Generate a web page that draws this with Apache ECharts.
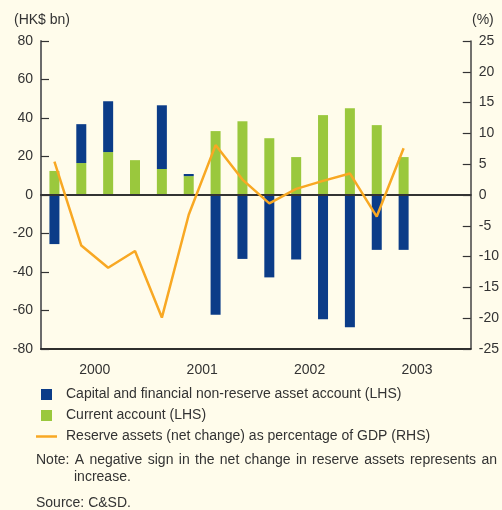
<!DOCTYPE html>
<html>
<head>
<meta charset="utf-8">
<script src="https://cdn.jsdelivr.net/npm/echarts@6/dist/echarts.min.js"></script>
<style>
  html, body { margin: 0; padding: 0; background: #FFFCEB; }
  #chart { width: 502px; height: 510px; }
</style>
</head>
<body>
<div id="chart"></div>
<script>
// Quarterly categories 2000 Q1 – 2003 Q4
const quarters = [
  '2000 Q1', '2000 Q2', '2000 Q3', '2000 Q4',
  '2001 Q1', '2001 Q2', '2001 Q3', '2001 Q4',
  '2002 Q1', '2002 Q2', '2002 Q3', '2002 Q4',
  '2003 Q1', '2003 Q2', '2003 Q3', '2003 Q4'
];
const years = ['2000', '2001', '2002', '2003'];

// HK$ bn (LHS)
const currentAccount = [12.5, 16.6, 22.3, 18.1, 13.5, 9.8, 33.2, 38.3, 29.5, 19.7, 41.5, 45.1, 36.3, 19.7];
const capitalAccount = [-25.5, 20.2, 26.4, 0, 33.1, 1.1, -62.2, -33.2, -42.8, -33.5, -64.6, -68.7, -28.5, -28.5];
// % of GDP (RHS)
const reserveChange = [5.4, -8.2, -11.8, -9.1, -19.9, -3.2, 8.1, 2.5, -1.35, 1.0, 2.3, 3.5, -3.5, 7.6];

const leftTicks = { min: -80, max: 80, interval: 20 };
const rightTicks = { min: -25, max: 25, interval: 5 };

const NAME_CAP = 'Capital and financial non-reserve asset account (LHS)';
const NAME_CUR = 'Current account (LHS)';
const NAME_RES = 'Reserve assets (net change) as percentage of GDP (RHS)';

const FONT = '"Liberation Sans", Arial, Helvetica, sans-serif';
const FS = 14;
const TXT = '#333333';
const BLUE = '#0B3C88';
const GREEN = '#9AC83D';
const ORANGE = '#F8A823';

// Note text, first line justified to the full width
const noteLine1 = 'Note: A negative sign in the net change in reserve assets represents an';
const noteLine2 = 'increase.';
const sourceText = 'Source: C&SD.';

function justifiedWords(text, x0, x1, y) {
  const ctx = document.createElement('canvas').getContext('2d');
  ctx.font = FS + 'px ' + FONT;
  const words = text.split(' ');
  const widths = words.map(w => ctx.measureText(w).width);
  const total = widths.reduce((a, b) => a + b, 0);
  const gap = (x1 - x0 - total) / (words.length - 1);
  const els = [];
  let x = x0;
  words.forEach((w, i) => {
    els.push({
      type: 'text', left: x, top: y,
      style: { text: w, font: FS + 'px ' + FONT, fill: TXT }
    });
    x += widths[i] + gap;
  });
  return els;
}

const chart = echarts.init(document.getElementById('chart'));
chart.setOption({
  backgroundColor: '#FFFCEB',
  animation: false,
  textStyle: { fontFamily: FONT },
  grid: { left: 41, right: 31, top: 41, bottom: 161 },
  legend: {
    orient: 'vertical',
    left: 36, top: 384,
    padding: 0,
    itemGap: 0,
    itemWidth: 21, itemHeight: 11,
    textStyle: { fontSize: FS, color: TXT, lineHeight: 21, padding: [0, 0, 0, 4] },
    data: [
      { name: NAME_CAP, icon: 'path://M0,0H10V10H0Z' },
      { name: NAME_CUR, icon: 'path://M0,0H10V10H0Z' },
      { name: NAME_RES, icon: 'path://M0,0H84V10H0Z' }
    ]
  },
  xAxis: [
    {
      type: 'category', data: quarters, position: 'bottom',
      axisLine: { onZero: false, lineStyle: { color: '#222', width: 1.5 } },
      axisTick: { inside: true, length: 4, interval: 0, lineStyle: { color: '#222' } },
      axisLabel: { show: false }
    },
    {
      type: 'category', data: years, position: 'bottom',
      axisLine: { onZero: false, lineStyle: { color: '#222', width: 1.5 } },
      axisTick: { inside: true, length: 9, interval: 0, lineStyle: { color: '#222', width: 1.5 } },
      axisLabel: { margin: 14, fontSize: FS, color: TXT }
    },
    {
      type: 'category', data: years, position: 'bottom', z: 3,
      axisLine: { onZero: true, lineStyle: { color: '#333', width: 2 } },
      axisTick: { inside: false, length: 5, interval: 0, lineStyle: { color: '#333' } },
      axisLabel: { show: false }
    }
  ],
  yAxis: [
    {
      type: 'value', position: 'left', ...leftTicks,
      axisLine: { show: true, lineStyle: { color: '#6b6b6b', width: 2 } },
      axisTick: { show: true, inside: true, length: 8, lineStyle: { color: '#333', width: 1.2 } },
      axisLabel: { fontSize: FS, color: TXT, margin: 8 },
      splitLine: { show: false }
    },
    {
      type: 'value', position: 'right', ...rightTicks,
      axisLine: { show: true, lineStyle: { color: '#444', width: 1.5 } },
      axisTick: { show: true, inside: true, length: 8, lineStyle: { color: '#333', width: 1.2 } },
      axisLabel: { fontSize: FS, color: TXT, margin: 8 },
      splitLine: { show: false }
    }
  ],
  series: [
    {
      name: NAME_CUR, type: 'bar', stack: 'bop', barWidth: 10,
      xAxisIndex: 0, yAxisIndex: 0,
      itemStyle: { color: GREEN }, data: currentAccount
    },
    {
      name: NAME_CAP, type: 'bar', stack: 'bop', barWidth: 10,
      xAxisIndex: 0, yAxisIndex: 0,
      itemStyle: { color: BLUE }, data: capitalAccount
    },
    {
      name: NAME_RES, type: 'line', xAxisIndex: 0, yAxisIndex: 1, z: 5,
      symbol: 'none', showSymbol: false,
      lineStyle: { color: ORANGE, width: 2.5 }, itemStyle: { color: ORANGE },
      data: reserveChange
    }
  ],
  graphic: [
    { type: 'text', left: 14, top: 13, style: { text: '(HK$ bn)', font: FS + 'px ' + FONT, fill: TXT } },
    { type: 'text', left: 472, top: 13, style: { text: '(%)', font: FS + 'px ' + FONT, fill: TXT } },
    ...justifiedWords(noteLine1, 36, 497, 453),
    { type: 'text', left: 74, top: 470, style: { text: noteLine2, font: FS + 'px ' + FONT, fill: TXT } },
    { type: 'text', left: 36, top: 496, style: { text: sourceText, font: FS + 'px ' + FONT, fill: TXT } }
  ]
});
</script>
</body>
</html>
